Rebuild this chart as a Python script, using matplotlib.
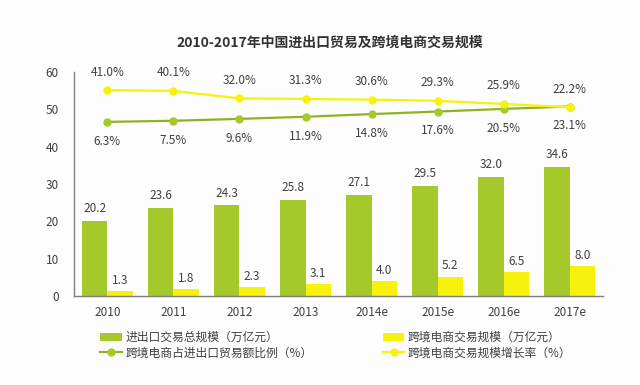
import numpy as np
import matplotlib
matplotlib.use("Agg")
from matplotlib import pyplot as plt

plt.rcParams["font.family"] = ["Noto Sans CJK SC", "DejaVu Sans"]

years = ["2010", "2011", "2012", "2013", "2014e", "2015e", "2016e", "2017e"]
trade_total = [20.2, 23.6, 24.3, 25.8, 27.1, 29.5, 32.0, 34.6]
ecom_total = [1.3, 1.8, 2.3, 3.1, 4.0, 5.2, 6.5, 8.0]
ecom_share = [6.3, 7.5, 9.6, 11.9, 14.8, 17.6, 20.5, 23.1]
ecom_growth = [41.0, 40.1, 32.0, 31.3, 30.6, 29.3, 25.9, 22.2]

green = "#a5c92b"
green_line = "#8fb320"
yellow = "#f7f20c"
text_c = "#404040"
axis_c = "#7f7f7f"

fig = plt.figure(figsize=(6.4, 3.85), dpi=100, facecolor="#fdfdfd")
ax = fig.add_axes([0.116, 0.231, 0.826, 0.582])
ax.set_facecolor("none")

x = np.arange(len(years))
w = 0.385
b1 = ax.bar(x - w / 2, trade_total, w, color=green, label="进出口交易总规模（万亿元）")
b2 = ax.bar(x + w / 2, ecom_total, w, color=yellow, label="跨境电商交易规模（万亿元）")

for xi, v in zip(x, trade_total):
    ax.annotate(f"{v:.1f}", (xi - w / 2, v), xytext=(0, 4), textcoords="offset points",
                ha="center", va="bottom", fontsize=8.5, color=text_c)
for xi, v in zip(x, ecom_total):
    ax.annotate(f"{v:.1f}", (xi + w / 2, v), xytext=(0, 3), textcoords="offset points",
                ha="center", va="bottom", fontsize=8.5, color=text_c)

ax.set_xlim(-0.5, len(years) - 0.5)
ax.set_ylim(0, 60)
ax.set_yticks(range(0, 61, 10))
ax.set_xticks(x)
ax.set_xticklabels(years)
ax.tick_params(axis="both", length=0, labelsize=8.5, labelcolor=text_c)
ax.tick_params(axis="y", pad=11)
ax.tick_params(axis="x", pad=7)
for s in ["top", "right"]:
    ax.spines[s].set_visible(False)
for s in ["left", "bottom"]:
    ax.spines[s].set_color(axis_c)
    ax.spines[s].set_linewidth(1)

# percentage lines on a hidden secondary scale
ax2 = ax.twinx()
ax2.set_ylim(-184, 60.8)
ax2.axis("off")
l1, = ax2.plot(x, ecom_share, color=green_line, lw=1.6, marker="o", ms=5,
               mfc=green, mec=green, label="跨境电商占进出口贸易额比例（%）")
l2, = ax2.plot(x, ecom_growth, color=yellow, lw=1.6, marker="o", ms=5,
               label="跨境电商交易规模增长率（%）")

for xi, v in zip(x, ecom_share):
    ax2.annotate(f"{v:.1f}%", (xi, v), xytext=(0, -14), textcoords="offset points",
                 ha="center", va="center", fontsize=8.5, color=text_c)
for xi, v in zip(x, ecom_growth):
    ax2.annotate(f"{v:.1f}%", (xi, v), xytext=(0, 13), textcoords="offset points",
                 ha="center", va="center", fontsize=8.5, color=text_c)

fig.text(0.515, 0.888, "2010-2017年中国进出口贸易及跨境电商交易规模",
         ha="center", va="center", fontsize=10, fontweight="bold", color="#333333")

fig.legend([b1, l1, b2, l2], [b1.get_label(), l1.get_label(), b2.get_label(), l2.get_label()],
           loc="upper center", bbox_to_anchor=(0.525, 0.155), ncol=2, frameon=False,
           fontsize=8.5, labelcolor=text_c, columnspacing=6, handlelength=1.8,
           handletextpad=0.3, labelspacing=0.2, borderpad=0)

fig.savefig("out.png", dpi=100, facecolor=fig.get_facecolor())
